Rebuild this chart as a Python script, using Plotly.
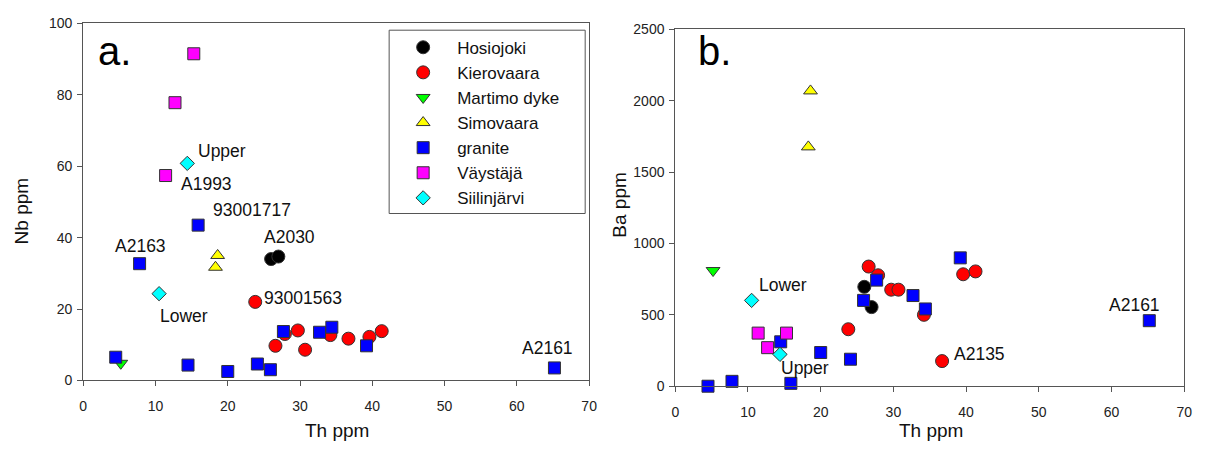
import plotly.graph_objects as go

# ---------------- data (Th, Nb, Ba in ppm) ----------------
groups = ["Hosiojoki", "Kierovaara", "Martimo dyke", "Simovaara", "granite", "Väystäjä", "Siilinjärvi"]

hos_th = [26.0, 27.0]
hos_nb = [34.0, 34.7]
hos_ba = [696, 554]

kie_th = [23.8, 26.6, 27.9, 29.7, 30.7, 34.2, 36.7, 39.6, 41.3]
kie_nb = [22.0, 9.7, 13.0, 14.0, 8.6, 12.7, 11.7, 12.2, 13.8]
kie_ba = [399, 838, 777, 676, 676, 500, 176, 784, 804]

mar_th = [5.2]
mar_nb = [4.8]
mar_ba = [810]

sim_th = [18.6, 18.3]
sim_nb = [35.0, 31.7]
sim_ba = [2068, 1676]

gra_th = [4.5, 7.8, 14.5, 15.9, 20.0, 24.1, 25.9, 27.7, 32.7, 34.4, 39.2, 65.2]
gra_nb = [6.5, 32.7, 4.3, 43.5, 2.5, 4.6, 3.0, 13.7, 13.5, 14.9, 9.7, 3.5]
gra_ba = [0, 34, 311, 20, 236, 189, 601, 743, 635, 541, 899, 459]

vay_th = [15.3, 12.7, 11.4]
vay_nb = [91.5, 77.8, 57.4]
vay_ba = [372, 270, 372]

sii_th = [14.4, 10.5]
sii_nb = [60.8, 24.3]
sii_ba = [223, 601]

# sample labels (text, Th, value) for each panel
nb_labels = ["Upper", "A1993", "93001717", "A2163", "A2030", "Lower", "93001563", "A2161"]
nb_label_th = [15.6, 13.3, 17.7, 4.1, 24.7, 10.4, 24.7, 60.4]
nb_label_nb = [64.3, 55.1, 47.6, 37.6, 40.3, 18.1, 23.2, 9.2]

ba_labels = ["Lower", "Upper", "A2135", "A2161"]
ba_label_th = [11.3, 14.3, 38.0, 59.4]
ba_label_ba = [709, 128, 223, 568]

# ---------------- styles ----------------
FONT = "Liberation Sans, Arial, Helvetica, sans-serif"
series = [
    (groups[0], hos_th, hos_nb, hos_ba, "circle", "#000000", 13),
    (groups[1], kie_th, kie_nb, kie_ba, "circle", "#ff0000", 13),
    (groups[2], mar_th, mar_nb, mar_ba, "triangle-down", "#00ff00", 12),
    (groups[3], sim_th, sim_nb, sim_ba, "triangle-up", "#ffff00", 12),
    (groups[4], gra_th, gra_nb, gra_ba, "square", "#0000ff", 12),
    (groups[5], vay_th, vay_nb, vay_ba, "square", "#ff00ff", 12),
    (groups[6], sii_th, sii_nb, sii_ba, "diamond", "#00ffff", 11),
]

fig = go.Figure()
for name, th, nb, ba, sym, col, size in series:
    mk = dict(symbol=sym, color=col, size=size, line=dict(color="#333333", width=1))
    fig.add_trace(go.Scatter(x=th, y=nb, mode="markers", name=name, marker=mk,
                             xaxis="x", yaxis="y", cliponaxis=False, showlegend=True))
    fig.add_trace(go.Scatter(x=th, y=ba, mode="markers", name=name, marker=mk,
                             xaxis="x2", yaxis="y2", cliponaxis=False, showlegend=False))

W, H = 1210, 455
def px(x):
    return x / W
def py(y):
    return 1 - y / H

axis_common = dict(showline=True, linecolor="#555555", linewidth=1, mirror=True,
                   ticks="outside", ticklen=5, tickcolor="#555555", showgrid=False,
                   zeroline=False, tickfont=dict(family=FONT, size=14, color="#222222"))

fig.update_layout(
    width=W, height=H, margin=dict(l=0, r=0, t=0, b=0),
    paper_bgcolor="white", plot_bgcolor="white",
    font=dict(family=FONT, color="#111111"),
    xaxis=dict(domain=[px(80), px(591)], range=[0, 70], dtick=10, anchor="y",
               ticklabelstandoff=8, **axis_common),
    yaxis=dict(domain=[py(386), py(16)], range=[0, 100], dtick=20, anchor="x",
               ticklabelstandoff=2, **axis_common),
    xaxis2=dict(domain=[px(678), px(1192)], range=[0, 70], dtick=10, anchor="y2",
                ticklabelstandoff=8, **axis_common),
    yaxis2=dict(domain=[py(392), py(22)], range=[0, 2500], dtick=500, anchor="x2",
                ticklabelstandoff=2, **axis_common),
    legend=dict(x=px(389), y=py(22.5), xanchor="left", yanchor="top",
                borderwidth=0, bgcolor="rgba(0,0,0,0)",
                font=dict(family=FONT, size=17, color="#111111"),
                itemwidth=58, tracegroupgap=0),
    shapes=[dict(type="rect", xref="paper", yref="paper",
                 x0=px(389), x1=px(587), y0=py(213), y1=py(23),
                 line=dict(color="#555555", width=1), fillcolor="white", layer="below")],
)

annotations = []
for t, xv, yv in zip(nb_labels, nb_label_th, nb_label_nb):
    annotations.append(dict(x=xv, y=yv, xref="x", yref="y", text=t, showarrow=False,
                            xanchor="left", yanchor="middle",
                            font=dict(family=FONT, size=17.5, color="#111111")))
for t, xv, yv in zip(ba_labels, ba_label_th, ba_label_ba):
    annotations.append(dict(x=xv, y=yv, xref="x2", yref="y2", text=t, showarrow=False,
                            xanchor="left", yanchor="middle",
                            font=dict(family=FONT, size=17.5, color="#111111")))
# panel letters
annotations.append(dict(x=px(93), y=py(45), xref="paper", yref="paper", text="a.",
                        showarrow=False, xanchor="left", yanchor="middle",
                        font=dict(family=FONT, size=40, color="#000000")))
annotations.append(dict(x=px(699), y=py(45), xref="paper", yref="paper", text="b.",
                        showarrow=False, xanchor="left", yanchor="middle",
                        font=dict(family=FONT, size=40, color="#000000")))
# axis titles
annotations.append(dict(x=px(336), y=py(438), xref="paper", yref="paper", text="Th ppm",
                        showarrow=False, xanchor="center", yanchor="middle",
                        font=dict(family=FONT, size=19, color="#111111")))
annotations.append(dict(x=px(936), y=py(438), xref="paper", yref="paper", text="Th ppm",
                        showarrow=False, xanchor="center", yanchor="middle",
                        font=dict(family=FONT, size=19, color="#111111")))
annotations.append(dict(x=px(18), y=py(210), xref="paper", yref="paper", text="Nb ppm",
                        showarrow=False, xanchor="center", yanchor="middle", textangle=-90,
                        font=dict(family=FONT, size=19, color="#111111")))
annotations.append(dict(x=px(622), y=py(204), xref="paper", yref="paper", text="Ba ppm",
                        showarrow=False, xanchor="center", yanchor="middle", textangle=-90,
                        font=dict(family=FONT, size=19, color="#111111")))
fig.update_layout(annotations=annotations)

fig.write_html("out.html", config={"displayModeBar": False},
               post_script="document.body.style.margin='0';document.body.style.overflow='hidden';")
